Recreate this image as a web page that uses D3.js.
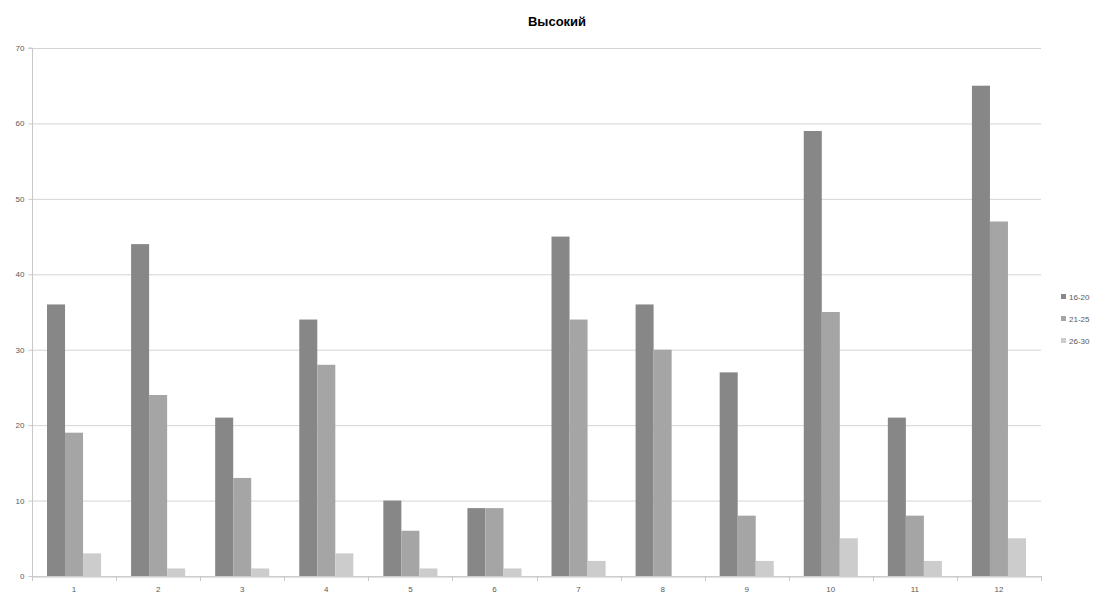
<!DOCTYPE html>
<html><head><meta charset="utf-8">
<script src="https://cdn.jsdelivr.net/npm/d3@7"></script>
<style>body{margin:0;background:#fff}svg{display:block}</style>
</head><body>
<svg id="c" width="1103" height="596"></svg>
<script>
const categories = ["1","2","3","4","5","6","7","8","9","10","11","12"];
const seriesNames = ["16-20","21-25","26-30"];
const s1620 = [36,44,21,34,10,9,45,36,27,59,21,65];
const s2125 = [19,24,13,28,6,9,34,30,8,35,8,47];
const s2630 = [3,1,1,3,1,1,2,0,2,5,2,5];
const yTicks = [0,10,20,30,40,50,60,70];
const colors = ["#878787","#a5a5a5","#cccccc"];
const title = "Высокий";

const series = [s1620, s2125, s2630];
const svg = d3.select("#c");
const L = 32, R = 1041, T = 48, B = 576;
const x = d3.scaleBand().domain(categories).range([L, R]).paddingInner(0).paddingOuter(0);
const y = d3.scaleLinear().domain([0,70]).range([B, T]);
const inner = d3.scaleBand().domain(seriesNames).range([0, x.bandwidth()]).paddingInner(0).paddingOuter(0.833);

// grid
svg.append("g").selectAll("line").data(yTicks).join("line")
  .attr("x1", L).attr("x2", R).attr("y1", d=>y(d)+0.5).attr("y2", d=>y(d)+0.5)
  .attr("stroke", "#d4d4d4").attr("stroke-width", 1);

// bars
series.forEach((vals, si) => {
  svg.append("g").selectAll("rect").data(vals).join("rect")
    .attr("x", (d,i)=> x(categories[i]) + inner(seriesNames[si]))
    .attr("width", inner.bandwidth())
    .attr("y", d=>y(d))
    .attr("height", d=>B - y(d))
    .attr("fill", colors[si]);
});

// y axis
const ya = svg.append("g").attr("transform", `translate(${L+0.5},0)`)
  .call(d3.axisLeft(y).tickValues(yTicks).tickSize(4).tickPadding(4));
ya.select(".domain").attr("stroke","#c8c8c8").attr("d", `M-4,${T}H0V${B}`);
ya.selectAll(".tick line").attr("stroke","#c8c8c8");
ya.selectAll(".tick text").attr("fill","#595959").style("font-family","'Liberation Sans', Arial, sans-serif").style("font-size","8px");

// x axis
const xa = svg.append("g").attr("transform", `translate(0,${B+0.5})`)
  .call(d3.axisBottom(x).tickSize(0).tickPadding(10));
xa.select(".domain").attr("stroke","#c8c8c8");
xa.selectAll(".tick text").attr("fill","#595959").style("font-family","'Liberation Sans', Arial, sans-serif").style("font-size","8px");
// boundary ticks
const bounds = categories.map(c=>x(c)).concat([R]);
svg.append("g").selectAll("line").data(bounds).join("line")
  .attr("x1", d=>Math.round(d)+0.5).attr("x2", d=>Math.round(d)+0.5)
  .attr("y1", B).attr("y2", B+5).attr("stroke","#c8c8c8");

// title
svg.append("text").attr("x", 557).attr("y", 26).attr("text-anchor","middle")
  .style("font-family","'Liberation Sans', Arial, sans-serif").style("font-size","13px").style("font-weight","bold")
  .attr("fill","#000").text(title);

// legend
const lg = svg.append("g").selectAll("g").data(seriesNames).join("g")
  .attr("transform", (d,i)=>`translate(1061,${297 + i*22})`);
lg.append("rect").attr("x",0).attr("y",-3).attr("width",5).attr("height",5).attr("fill",(d,i)=>colors[i]);
lg.append("text").attr("x",8).attr("y",2.5).text(d=>d)
  .attr("fill","#595959").style("font-family","'Liberation Sans', Arial, sans-serif").style("font-size","8px");
</script>
</body></html>
